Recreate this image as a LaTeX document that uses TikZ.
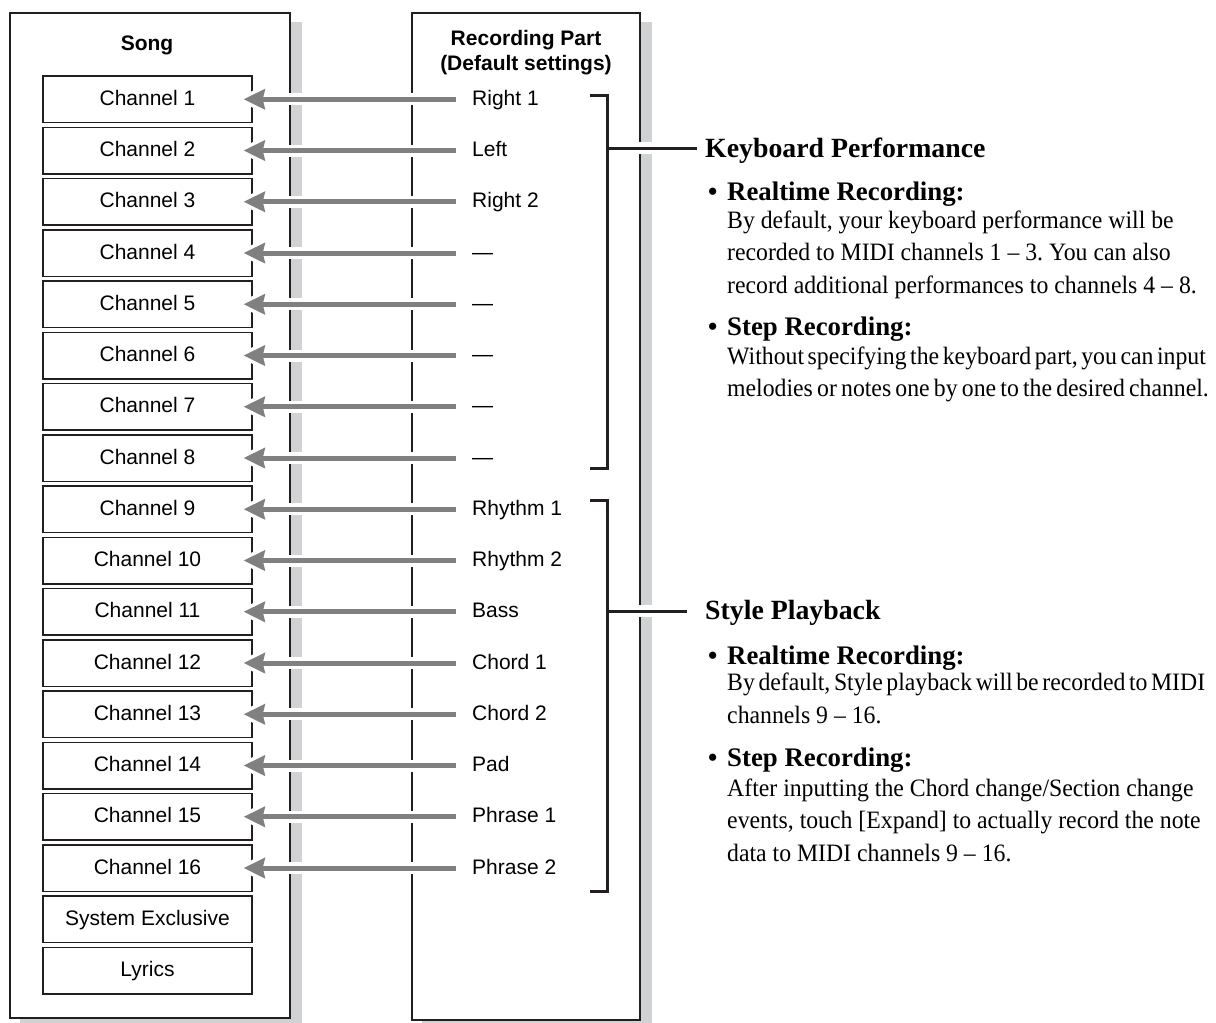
\documentclass[tikz,border=0pt]{standalone}
\usepackage{fontspec}
\newfontfamily\sansf{Liberation Sans}
\newfontfamily\serf[FakeStretch=0.95]{Liberation Serif}
\newfontfamily\serfb[FakeStretch=1.0]{Liberation Serif Bold}
\usetikzlibrary{arrows.meta,calc}
\definecolor{ink}{HTML}{231F20}
\definecolor{arrg}{HTML}{808080}
\definecolor{shad}{HTML}{D1D2D4}
\frenchspacing
\begin{document}
\begin{tikzpicture}[x=1pt,y=-1pt,
  outerbox/.style={draw=ink, fill=white, inner sep=0pt},
  shadowbox/.style={fill=shad},
  chbox/.style={draw=ink, line width=1.5pt, fill=white, minimum width=209pt, minimum height=46.5pt, inner sep=0pt, text height=14pt, text depth=2pt, font=\sansf\fontsize{21}{25}\selectfont},
  partlbl/.style={anchor=west, inner sep=0pt, text height=14pt, text depth=2pt, font=\sansf\fontsize{21}{25}\selectfont},
  coltitle/.style={anchor=base, inner sep=0pt, font=\sansf\bfseries\fontsize{21}{25}\selectfont},
  arr/.style={draw=arrg, line width=5pt, -{Stealth[length=21pt,width=20pt,inset=2pt]}},
  halo/.style={fill=white},
  brk/.style={draw=ink, line width=3pt},
  hdone/.style={anchor=base west, inner sep=0pt, font=\serfb\fontsize{27.8}{30}\selectfont},
  hdtwo/.style={anchor=base west, inner sep=0pt, font=\serfb\fontsize{26.8}{30}\selectfont},
  bul/.style={anchor=base west, inner sep=0pt, font=\serfb\fontsize{26.5}{30}\selectfont},
  body/.style={anchor=base west, inner sep=0pt, font=\serf\fontsize{25}{30}\selectfont}
]
\useasboundingbox (0,0) rectangle (1216,1023);
% shadows
\fill[shadowbox] (20,22) rectangle (302,1026);
\fill[shadowbox] (422,22) rectangle (652,1026);
% outer boxes
\node[outerbox, line width=2.5pt, minimum width=280pt, minimum height=1005pt] (songbox) at (150,515.5) {};
\node[outerbox, line width=1.2pt, minimum width=228pt, minimum height=1007pt] (recbox) at (526,516.5) {};
\node[coltitle] (songt) at (147,50) {Song};
\node[coltitle] (rect1) at (526,45) {Recording Part};
\node[coltitle] (rect2) at (526,70) {(Default settings)};
% channel boxes
\foreach \i/\t in {1/Channel 1,2/Channel 2,3/Channel 3,4/Channel 4,5/Channel 5,6/Channel 6,7/Channel 7,8/Channel 8,9/Channel 9,10/Channel 10,11/Channel 11,12/Channel 12,13/Channel 13,14/Channel 14,15/Channel 15,16/Channel 16,17/System Exclusive,18/Lyrics}
  \node[chbox] (c\i) at (147.5,{99.25+(\i-1)*51.25}) {\t};
% part labels
\foreach \i/\t in {1/Right 1,2/Left,3/Right 2,4/—,5/—,6/—,7/—,8/—,9/Rhythm 1,10/Rhythm 2,11/Bass,12/Chord 1,13/Chord 2,14/Pad,15/Phrase 1,16/Phrase 2}
  \node[partlbl] (l\i) at (472,{99.25+(\i-1)*51.25}) {\t};
% halos and arrows
\foreach \i in {1,...,16}{
  \fill[halo] ($(c\i.east)+(12,-6)$) rectangle ($(l\i.west)+(-14,6)$);
  \fill[halo] ($(c\i.east)+(-18,0)$) -- ($(c\i.east)+(15,15.4)$) -- ($(c\i.east)+(15,-15.4)$) -- cycle;
  \draw[arr] ([xshift=-16pt]l\i.west) -- ([xshift=-9pt]c\i.east);
}
% right texts
\node[hdone] (kp) at (705,157) {Keyboard Performance};
\node[bul] (bu1) at (708,200) {•};
\node[hdtwo] (rr1) at (727,200) {Realtime Recording:};
\node[body] (t1) at (727,228) {By default, your keyboard performance will be};
\node[body] (t2) at (727,260.5) {recorded to MIDI channels 1 – 3. You can also};
\node[body] (t3) at (727,293) {record additional performances to channels 4 – 8.};
\node[bul] (bu2) at (708,335) {•};
\node[hdtwo] (sr1) at (727,335) {Step Recording:};
\node[body] (t4) at (727,364) {{\spaceskip=3.6pt\relax Without specifying the keyboard part, you can input}};
\node[body] (t5) at (727,396) {{\spaceskip=4.2pt\relax melodies or notes one by one to the desired channel.}};
\node[hdone] (sp) at (705,619) {Style Playback};
\node[bul] (bu3) at (708,664) {•};
\node[hdtwo] (rr2) at (727,664) {Realtime Recording:};
\node[body] (t6) at (727,690) {{\spaceskip=3.6pt\relax By default, Style playback will be recorded to MIDI}};
\node[body] (t7) at (727,723) {channels 9 – 16.};
\node[bul] (bu4) at (708,766) {•};
\node[hdtwo] (sr2) at (727,766) {Step Recording:};
\node[body] (t8) at (727,796) {After inputting the Chord change/Section change};
\node[body] (t9) at (727,828) {events, touch [Expand] to actually record the note};
\node[body] (t10) at (727,861) {data to MIDI channels 9 – 16.};
% brackets
\coordinate (k1) at (607,148);
\coordinate (k2) at (607,611);
\fill[halo] (614,142) rectangle (692,154);
\fill[halo] (614,605) rectangle (682,617);
\draw[brk] (590,95) -- (607,95) -- (607,468) -- (590,468);
\draw[brk] (590,500) -- (607,500) -- (607,891) -- (590,891);
\draw[brk] (k1) -- ([xshift=-8pt]kp.west |- k1);
\draw[brk] (k2) -- ([xshift=-18pt]sp.west |- k2);
\end{tikzpicture}
\end{document}
